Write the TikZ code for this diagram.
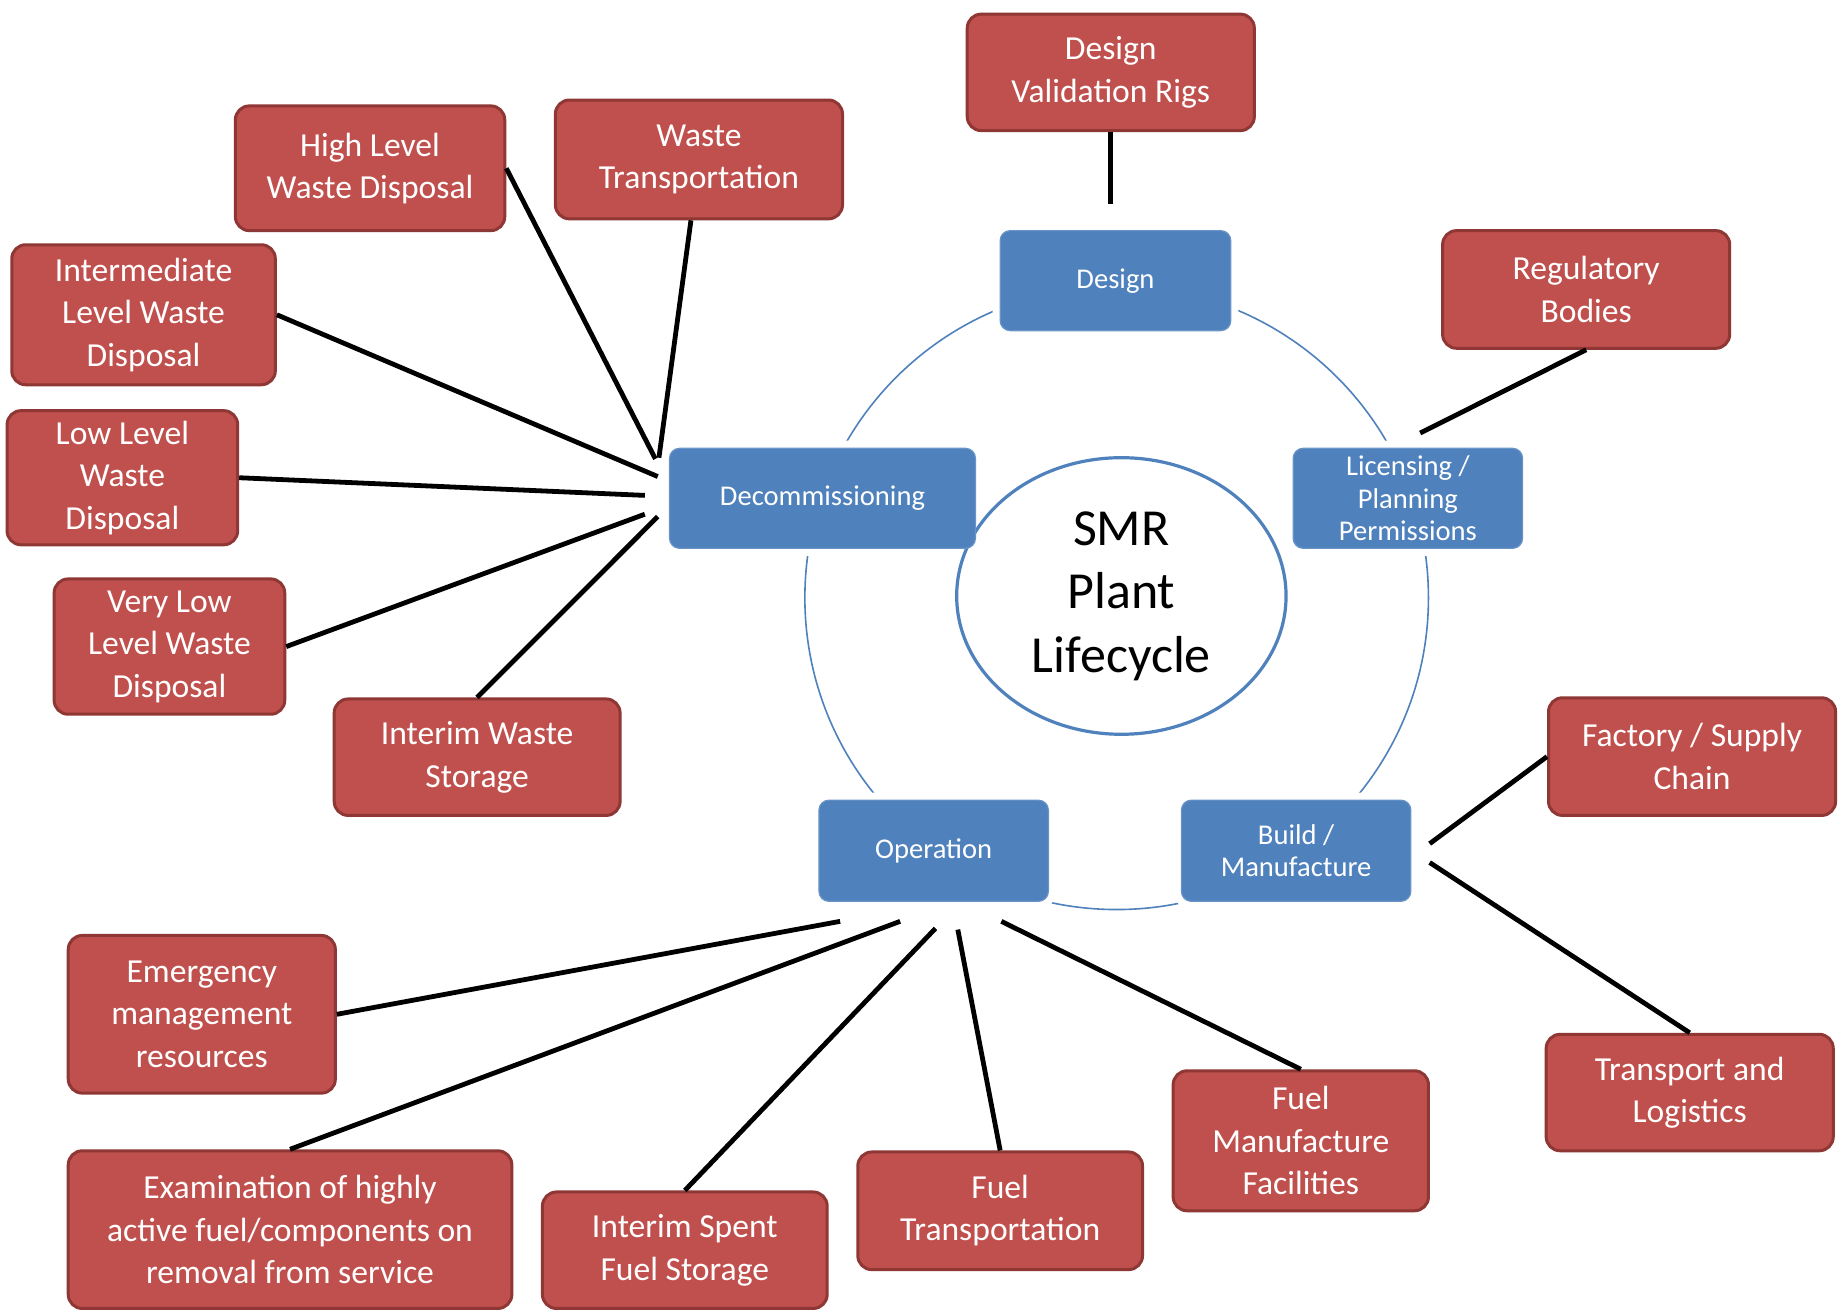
\documentclass[tikz,border=0pt]{standalone}
\usepackage{fontspec}
\setmainfont{Carlito}
\usetikzlibrary{shapes.geometric}

\definecolor{redfill}{HTML}{C0504D}
\definecolor{redline}{HTML}{8E3734}
\definecolor{bluefill}{HTML}{4F81BD}
\definecolor{ringblue}{HTML}{4F81BD}

\pgfdeclarelayer{ringlayer}
\pgfdeclarelayer{halolayer}
\pgfsetlayers{ringlayer,halolayer,main}

% box from corner coordinates: name, x1, y1, x2, y2, style, text
\newcommand\cornerbox[7]{%
  \pgfmathsetmacro\boxwd{(#4-#2)*0.58835}%
  \pgfmathsetmacro\boxht{(#5-#3)*0.58835}%
  \node[#6, minimum width=\boxwd pt, minimum height=\boxht pt]
    (#1) at ({(#2+#4)/2},{(#3+#5)/2}) {#7};%
}

\tikzset{
  redbox/.style={draw=redline, line width=1.5pt, fill=redfill,
    rounded corners=7pt, text=white, align=center, inner sep=0pt,
    font=\fontsize{16.8}{21.2}\selectfont},
  bluebox/.style={draw=bluefill!85!white, line width=0.6pt, fill=bluefill,
    rounded corners=5pt, text=white, align=center, inner sep=0pt,
    font=\fontsize{14.3}{16.3}\selectfont},
  halo/.style={draw=white, line width=7pt, rounded corners=5pt},
  conn/.style={draw=black, line width=2.4pt},
}

\begin{document}
\begin{tikzpicture}[x=0.58835pt, y=-0.58835pt]
\useasboundingbox (0,0) rectangle (1568,1115);

% lifecycle stages
\cornerbox{des}{850}{196}{1046}{281}{bluebox}{Design}
\cornerbox{lic}{1099}{381}{1294}{466}{bluebox}{Licensing /\\Planning\\Permissions}
\cornerbox{dec}{569}{381}{829}{466}{bluebox}{Decommissioning}
\cornerbox{ope}{696}{680}{891}{766}{bluebox}{Operation}
\cornerbox{bld}{1004}{680}{1199}{766}{bluebox}{Build /\\Manufacture}

% white page and cycle ring behind the stages, with a white margin around each stage
\begin{pgfonlayer}{ringlayer}
  \fill[white] (0,0) rectangle (1568,1115);
  \node[circle, draw=ringblue, line width=0.8pt, minimum size=311.8pt, inner sep=0pt]
    (ring) at (949,508) {};
\end{pgfonlayer}
\begin{pgfonlayer}{halolayer}
  \foreach \s in {des,lic,dec,ope,bld}
    \draw[halo] (\s.north west) rectangle (\s.south east);
  \node[ellipse, draw=ringblue, fill=white, line width=1.6pt, inner sep=0pt,
        minimum width=164.7pt, minimum height=138.3pt, align=center,
        font=\fontsize{26}{31.8}\selectfont]
    (smr) at (953,506.5) {SMR\\Plant\\Lifecycle};
\end{pgfonlayer}

% related activities
\cornerbox{dvr}{822}{12}{1066}{111}{redbox}{Design\\Validation Rigs}
\cornerbox{hlw}{200}{90}{429}{196}{redbox}{High Level\\Waste Disposal}
\cornerbox{wt}{472}{85}{716}{186}{redbox}{Waste\\Transportation}
\cornerbox{ilw}{10}{208}{234}{327}{redbox}{Intermediate\\Level Waste\\Disposal}
\cornerbox{llw}{6}{349}{202}{463}{redbox}{Low Level\\Waste\\Disposal}
\cornerbox{vll}{46}{492}{242}{607}{redbox}{Very Low\\Level Waste\\Disposal}
\cornerbox{iws}{284}{594}{527}{693}{redbox}{Interim Waste\\Storage}
\cornerbox{reg}{1226}{196}{1470}{296}{redbox}{Regulatory\\Bodies}
\cornerbox{fsc}{1316}{593}{1560}{693}{redbox}{Factory / Supply\\Chain}
\cornerbox{tl}{1314}{879}{1558}{978}{redbox}{Transport and\\Logistics}
\cornerbox{emr}{58}{795}{285}{929}{redbox}{Emergency\\management\\resources}
\cornerbox{exam}{58}{978}{435}{1112}{redbox}{Examination of highly\\active fuel/components on\\removal from service}
\cornerbox{isf}{461}{1013}{703}{1112}{redbox}{Interim Spent\\Fuel Storage}
\cornerbox{ft}{729}{979}{971}{1079}{redbox}{Fuel\\Transportation}
\cornerbox{fmf}{997}{910}{1214}{1029}{redbox}{Fuel\\Manufacture\\Facilities}

% free ends of the connectors, next to each stage
\coordinate (eDvr) at (944,173);
\coordinate (eReg) at (1207,368);
\coordinate (eHlw) at (557,390);
\coordinate (eWt)  at (560,389);
\coordinate (eIlw) at (559,405);
\coordinate (eLlw) at (548,421);
\coordinate (eVll) at (548,437);
\coordinate (eIws) at (559,439);
\coordinate (eEmr) at (714,783);
\coordinate (eExam) at (765,783);
\coordinate (eIsf) at (795,789);
\coordinate (eFt)  at (814,790);
\coordinate (eFmf) at (851,783);
\coordinate (eFsc) at (1215,717);
\coordinate (eTl)  at (1215,733);

% connectors
\draw[conn] (dvr.south) -- (eDvr);
\draw[conn] (reg.south) -- (eReg);
\draw[conn] (hlw.east) -- (eHlw);
\draw[conn] ([xshift=-4pt]wt.south) -- (eWt);
\draw[conn] (ilw.east) -- (eIlw);
\draw[conn] (llw.east) -- (eLlw);
\draw[conn] (vll.east) -- (eVll);
\draw[conn] (iws.north) -- (eIws);
\draw[conn] (emr.east) -- (eEmr);
\draw[conn] (exam.north) -- (eExam);
\draw[conn] (isf.north) -- (eIsf);
\draw[conn] (ft.north) -- (eFt);
\draw[conn] (fmf.north) -- (eFmf);
\draw[conn] (fsc.west) -- (eFsc);
\draw[conn] (tl.north) -- (eTl);
\end{tikzpicture}
\end{document}
